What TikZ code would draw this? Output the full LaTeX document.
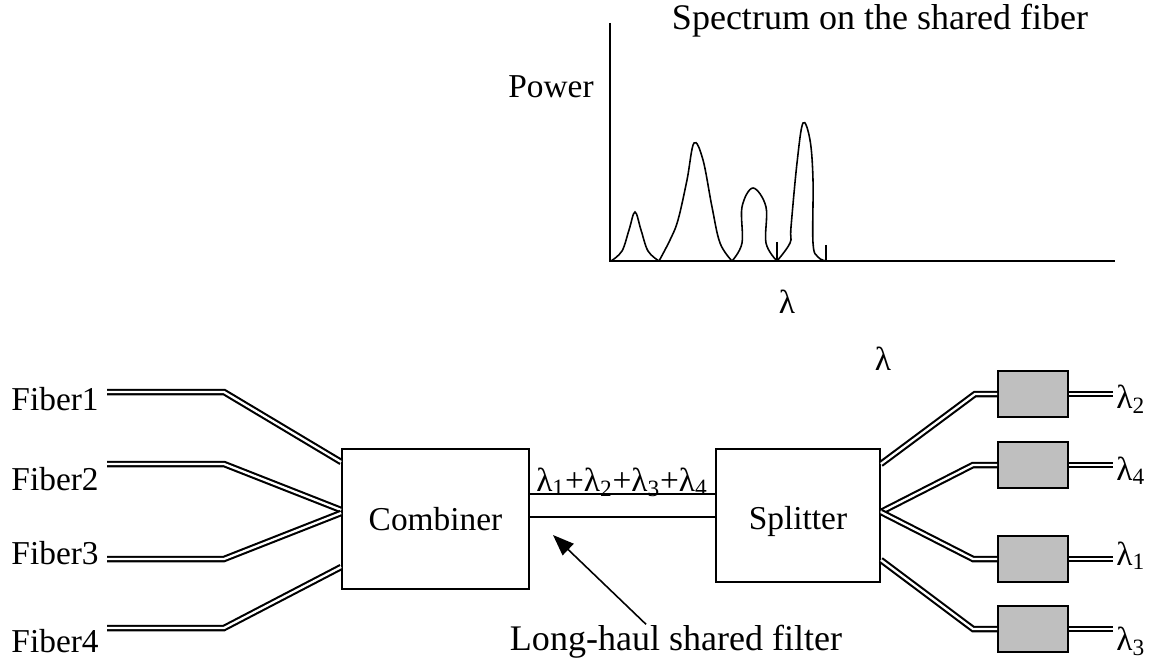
\documentclass[tikz,border=0pt]{standalone}
\usepackage{fontspec}
\setmainfont{Liberation Serif}
\usetikzlibrary{positioning,arrows.meta}
\tikzset{
	fiber/.style={line width=1.2pt,double=white,double distance=1.3pt},
	blk/.style={draw,line width=1pt,text depth=0pt},
	filt/.style={draw,fill=black!25,line width=1pt,minimum width=1.4cm,minimum height=0.92cm},
	lbl/.style={inner sep=0pt},
	curve/.style={line width=0.9pt},
}
\begin{document}
\begin{tikzpicture}[x=0.02cm,y=-0.02cm,font=\fontsize{19}{23}\selectfont]
	\useasboundingbox (0,0) rectangle (1156,662);

	\coordinate (ytop) at (610,23);
	\coordinate (org) at (610,261);
	\coordinate (xend) at (1115,261);
	\draw[curve] (ytop) -- (org) -- (xend);
	\draw[curve] plot[smooth,tension=0.6] coordinates {(611,261) (622,251) (629,230) (635,212) (641,230) (648,251) (659,261)};
	\draw[curve] plot[smooth,tension=0.6] coordinates {(659,261) (670,240) (678,220) (687,180) (694,143) (703,160) (712,207) (720,243) (732,261)};
	\draw[curve] plot[smooth,tension=0.6] coordinates {(732,261) (742,243) (742,207) (753,188) (766,207) (766,243) (777,261)};
	\draw[curve] plot[smooth,tension=0.6] coordinates {(777,261) (790,243) (791,227) (797,163) (803,123) (810,140) (813,180) (813,243) (818,257) (826,261)};
	\draw[curve] (777,242) -- (777,261);
	\draw[curve] (826,245) -- (826,261);
	\node[lbl,anchor=base,font=\fontsize{20.5}{24}\selectfont] (title) at (880,30) {Spectrum on the shared fiber};
	\node[lbl,anchor=base east] (power) at (594,98) {Power};
	\node[lbl,anchor=base] (lamax) at (787,313) {λ};
	\node[lbl,anchor=base] (lamtop) at (883,370) {λ};

	\node[blk,minimum width=3.74cm,minimum height=2.8cm] (comb) at (435.5,519) {Combiner};
	\node[blk,minimum width=3.28cm,minimum height=2.66cm] (split) at (798,515.5) {\raisebox{-3pt}{Splitter}};

	\node[lbl,anchor=base east] (fib1) at (99,410) {Fiber1};
	\node[lbl,anchor=base east] (fib2) at (99,490) {Fiber2};
	\node[lbl,anchor=base east] (fib3) at (99,564) {Fiber3};
	\node[lbl,anchor=base east] (fib4) at (99,652) {Fiber4};
	\coordinate (c1) at (comb.west |- 0,462);
	\coordinate (c2) at (comb.west |- 0,510);
	\coordinate (c3) at (comb.west |- 0,513);
	\coordinate (c4) at (comb.west |- 0,567);
	\draw[fiber] (107,392) coordinate (a1) -- (224,392) coordinate (b1) -- (c1);
	\draw[fiber] (107,464) coordinate (a2) -- (224,464) coordinate (b2) -- (c2);
	\draw[fiber] (107,559) coordinate (a3) -- (224,559) coordinate (b3) -- (c3);
	\draw[fiber] (107,628) coordinate (a4) -- (224,628) coordinate (b4) -- (c4);

	\draw[line width=0.8pt] (comb.east |- 0,494) -- (split.west |- 0,494);
	\draw[line width=0.8pt] (comb.east |- 0,517) -- (split.west |- 0,517);
	\node[lbl,anchor=base] (sum) at (622,491) {λ\textsubscript{1}+λ\textsubscript{2}+λ\textsubscript{3}+λ\textsubscript{4}};

	\node[lbl,anchor=base,font=\fontsize{20.5}{24}\selectfont] (lhsf) at (676,650) {Long-haul shared filter};
	\coordinate (tip) at (553,535);
	\draw[line width=0.9pt,-{Triangle[length=12pt,width=9pt]}] (lhsf.north -| 646,0) -- (tip);

	\node[filt] (flt2) at (1033,394) {};
	\node[filt] (flt4) at (1033,465) {};
	\node[filt] (flt1) at (1033,559) {};
	\node[filt] (flt3) at (1033,629) {};
	\coordinate (s1) at (split.east |- 0,464);
	\coordinate (s2) at (split.east |- 0,512);
	\coordinate (s3) at (split.east |- 0,560);
	\draw[fiber] (s1) -- (975,394) -- (flt2.west);
	\draw[fiber] (s2) -- (973,465) -- (flt4.west);
	\draw[fiber] (s2) -- (973,559) -- (flt1.west);
	\draw[fiber] (s3) -- (973,629) -- (flt3.west);
	\coordinate (o2) at (1113,394);
	\coordinate (o4) at (1113,465);
	\coordinate (o1) at (1113,559);
	\coordinate (o3) at (1113,629);
	\draw[fiber] (flt2.east) -- (o2);
	\draw[fiber] (flt4.east) -- (o4);
	\draw[fiber] (flt1.east) -- (o1);
	\draw[fiber] (flt3.east) -- (o3);
	\node[lbl,anchor=base west] (lam2) at (1116,408) {λ\textsubscript{2}};
	\node[lbl,anchor=base west] (lam4) at (1116,480) {λ\textsubscript{4}};
	\node[lbl,anchor=base west] (lam1) at (1116,565) {λ\textsubscript{1}};
	\node[lbl,anchor=base west] (lam3) at (1116,650) {λ\textsubscript{3}};
\end{tikzpicture}
\end{document}
